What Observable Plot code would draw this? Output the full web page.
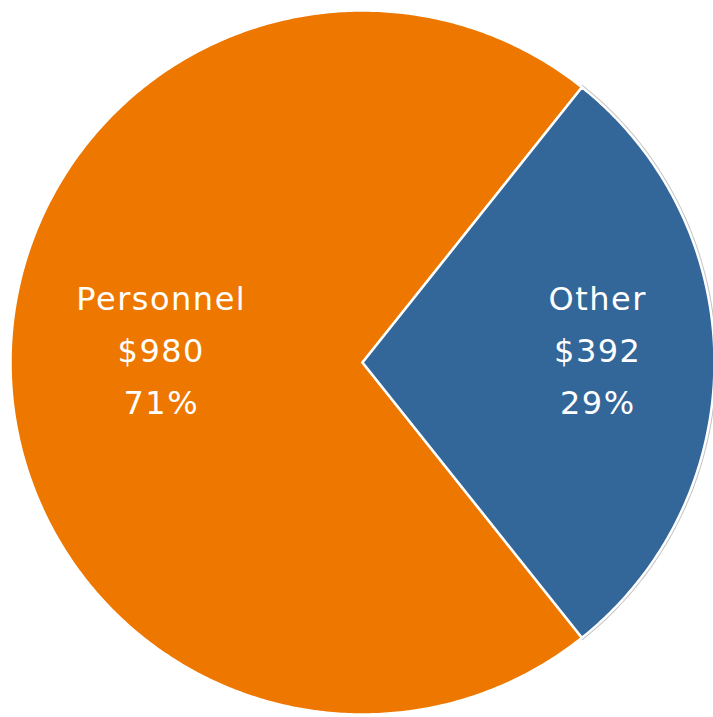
<!DOCTYPE html>
<html>
<head>
<meta charset="utf-8">
<script src="https://cdn.jsdelivr.net/npm/d3@7"></script>
<script src="https://cdn.jsdelivr.net/npm/@observablehq/plot@0.6"></script>
<style>
  html, body { margin: 0; padding: 0; background: #fff; }
</style>
</head>
<body>
<div id="chart"></div>
<script>
const categories = ["Other", "Personnel"];
const values = [392, 980];
const colors = ["#336699", "#EE7700"];

const total = d3.sum(values);
const data = categories.map((name, i) => ({name, value: values[i]}));

const otherShare = values[0] / total;
const start = Math.PI / 2 - otherShare * Math.PI;
const pie = d3.pie().value(d => d.value).sort(null).startAngle(start).endAngle(start + 2 * Math.PI);
const arcs = pie(data);

// polygon outlines of each slice (unit circle), angles from d3.pie
const pts = [];
for (const a of arcs) {
  const name = a.data.name;
  pts.push({name, x: 0, y: 0});
  const n = Math.max(2, Math.ceil((a.endAngle - a.startAngle) / (Math.PI / 360)));
  for (let k = 0; k <= n; k++) {
    const t = a.startAngle + (a.endAngle - a.startAngle) * k / n;
    pts.push({name, x: Math.sin(t), y: Math.cos(t)});
  }
  pts.push({name, x: 0, y: 0});
}

const labelR = 0.62;
const labels = arcs.map(a => {
  const m = (a.startAngle + a.endAngle) / 2;
  return {
    x: Math.sin(m) * labelR,
    y: Math.cos(m) * labelR,
    text: `${a.data.name}\n$${a.data.value}\n${Math.round(a.data.value / total * 100)}%`
  };
});

const chart = Plot.plot({
  width: 713,
  height: 717,
  margin: 0,
  x: {domain: [-1, 1], range: [10, 714], axis: null},
  y: {domain: [-1, 1], range: [714, 10], axis: null},
  marks: [
    Plot.line(pts, {filter: d => d.name === "Other", x: "x", y: "y", stroke: "#c4c4c4", strokeWidth: 4.5, strokeLinejoin: "round"}),
    Plot.line(pts, {filter: d => d.name === "Personnel", x: "x", y: "y", fill: colors[1], stroke: "white", strokeWidth: 2.5, strokeLinejoin: "round"}),
    Plot.line(pts, {filter: d => d.name === "Other", x: "x", y: "y", fill: colors[0], stroke: "white", strokeWidth: 2.5, strokeLinejoin: "round"}),
    Plot.text(labels, {
      x: "x", y: "y", text: "text",
      dx: 17, dy: -17,
      fill: "white",
      fontSize: 32,
      lineHeight: 1.63,
      fontFamily: "DejaVu Sans",
      textAnchor: "middle"
    })
  ]
});
chart.querySelectorAll("text").forEach(t => t.setAttribute("letter-spacing", "1.5"));
document.getElementById("chart").appendChild(chart);
</script>
</body>
</html>
